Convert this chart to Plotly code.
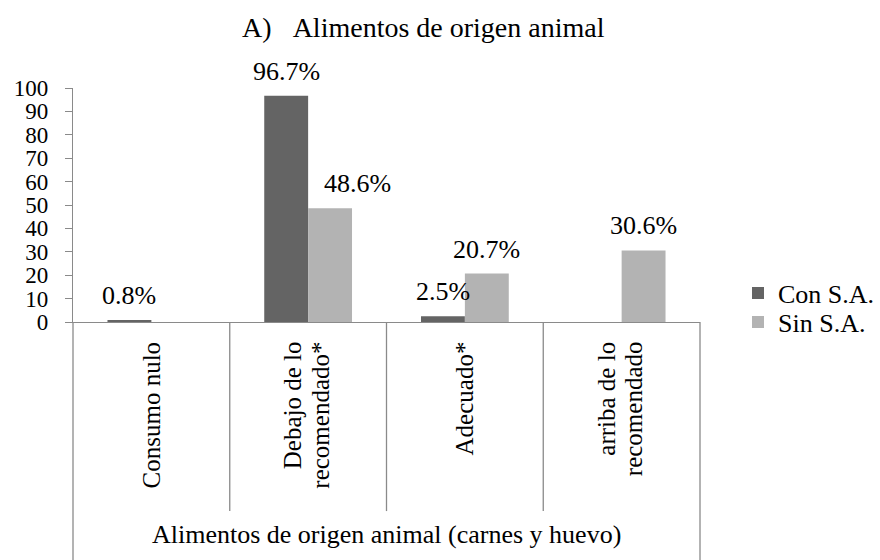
import plotly.graph_objects as go

categories = ["Consumo nulo", "Debajo de lo recomendado*", "Adecuado*", "arriba de lo recomendado"]
tick_label_lines = [["Consumo nulo"], ["Debajo de lo", "recomendado*"], ["Adecuado*"], ["arriba de lo", "recomendado"]]
con_sa = [0.8, 96.7, 2.5, 0]
sin_sa = [0, 48.6, 20.7, 30.6]
series_names = ["Con S.A.", "Sin S.A."]
y_ticks = [0, 10, 20, 30, 40, 50, 60, 70, 80, 90, 100]
group_title = "Alimentos de origen animal (carnes y huevo)"
chart_title = "A)\u00a0\u00a0\u00a0Alimentos de origen animal"

FONT = "'Liberation Serif', 'Times New Roman', 'DejaVu Serif', serif"
DARK = "#646464"
LIGHT = "#b3b3b3"
AXIS = "#8a8a8a"

fig = go.Figure()
fig.add_trace(go.Bar(x=categories, y=con_sa, name=series_names[0], marker_color=DARK,
                     marker_line_width=0, legend="legend"))
fig.add_trace(go.Bar(x=categories, y=sin_sa, name=series_names[1], marker_color=LIGHT,
                     marker_line_width=0, legend="legend2"))

# value labels
offsets = [-0.14, 0.14]
label_xshift = [[0, 0, 0, 0], [0, 27, 0, 0]]
annotations = []
for s, vals in enumerate([con_sa, sin_sa]):
    for i, v in enumerate(vals):
        if v == 0:
            continue
        annotations.append(dict(
            x=i + offsets[s], y=v, xref="x", yref="y",
            text=f"{v}%", showarrow=False, yanchor="bottom",
            yshift=8, xshift=label_xshift[s][i],
            font=dict(family=FONT, size=26, color="#000"),
        ))

# category labels (rotated, one annotation per line for tight line spacing)
LINE_GAP = 27
for i, lines in enumerate(tick_label_lines):
    n = len(lines)
    for j, line in enumerate(lines):
        annotations.append(dict(
            x=i, y=-0.075, xref="x", yref="paper", text=line, showarrow=False,
            textangle=-90, xanchor="center", yanchor="top",
            xshift=(j - (n - 1) / 2) * LINE_GAP - (2 if n > 1 else 0),
            font=dict(family=FONT, size=25, color="#000"),
        ))

annotations.append(dict(
    x=0.5, y=-0.91, xref="paper", yref="paper", text=group_title, showarrow=False,
    xanchor="center", yanchor="middle", font=dict(family=FONT, size=26, color="#000"),
))

shapes = []
for xv in [0.5, 1.5, 2.5]:
    shapes.append(dict(type="line", xref="x", yref="paper", x0=xv, x1=xv, y0=0, y1=-0.808,
                       line=dict(color=AXIS, width=1.3)))
for xp in [0, 1]:
    shapes.append(dict(type="line", xref="paper", yref="paper", x0=xp, x1=xp, y0=0, y1=-1.05,
                       line=dict(color=AXIS, width=1.3)))

legend_style = dict(xref="container", yref="container", xanchor="left", yanchor="middle",
                    bgcolor="rgba(0,0,0,0)", font=dict(family=FONT, size=26, color="#000"))

fig.update_layout(
    width=880, height=560,
    margin=dict(l=73, r=180, t=88, b=238, autoexpand=False),
    paper_bgcolor="white", plot_bgcolor="white",
    barmode="group", bargap=0.44, bargroupgap=0,
    title=dict(text=chart_title, x=0.481, xref="container", xanchor="center",
               y=0.952, yref="container", yanchor="middle",
               font=dict(family=FONT, size=28, color="#000")),
    font=dict(family=FONT, size=24, color="#000"),
    showlegend=True,
    legend=dict(x=738 / 880, y=1 - 293 / 560, **legend_style),
    legend2=dict(x=738 / 880, y=1 - 322 / 560, **legend_style),
    xaxis=dict(type="category", range=[-0.5, 3.5], showticklabels=False, ticks="",
               showline=True, linecolor=AXIS, linewidth=1.3, showgrid=False, zeroline=False,
               fixedrange=True),
    yaxis=dict(range=[0, 100], tickvals=y_ticks, ticks="outside", ticklen=7, tickcolor=AXIS,
               tickwidth=1.3, showline=True, linecolor=AXIS, linewidth=1.3, showgrid=False,
               zeroline=False, ticklabelstandoff=12,
               tickfont=dict(family=FONT, size=23, color="#000")),
    annotations=annotations,
    shapes=shapes,
)

fig.write_html("out.html", config={"displayModeBar": False},
               post_script="document.body.style.margin='0';document.body.style.padding='0';")
